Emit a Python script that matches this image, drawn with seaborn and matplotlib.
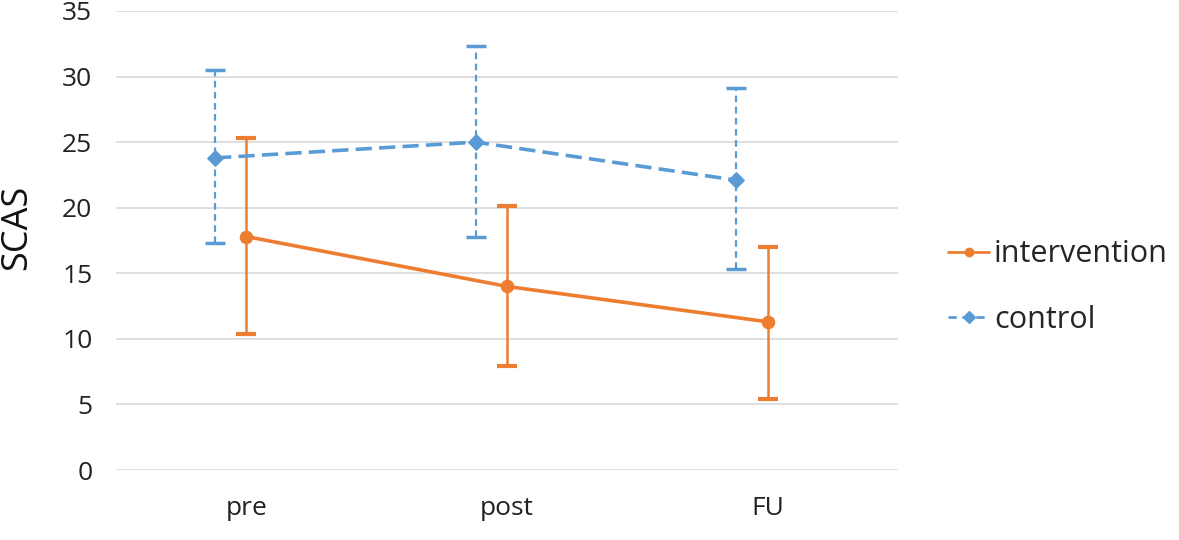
import numpy as np
import pandas as pd
import matplotlib
matplotlib.use("Agg")
import matplotlib.pyplot as plt
import seaborn as sns
from matplotlib.lines import Line2D

# ---- data ----
categories = ["pre", "post", "FU"]
intervention_mean = [17.8, 14.0, 11.3]
intervention_low = [10.4, 7.9, 5.4]
intervention_high = [25.3, 20.1, 17.0]
control_mean = [23.8, 25.0, 22.1]
control_low = [17.3, 17.8, 15.3]
control_high = [30.5, 32.3, 29.1]
y_ticks = [0, 5, 10, 15, 20, 25, 30, 35]

# ---- style ----
sns.set_theme(style="white")
plt.rcParams['font.family'] = ['Open Sans', 'DejaVu Sans']

ORANGE = "#ED7D31"
BLUE = "#5B9BD5"
BLUE_DARK = "#2E75B6"
ctrl_offset = -0.12

fig = plt.figure(figsize=(11.79, 5.40), dpi=100)
ax = fig.add_axes([116/1179, 1 - 470/540, (898-116)/1179, (470-11)/540])

pos = np.arange(len(categories))
df = pd.DataFrame({
    "x": np.concatenate([pos, pos + ctrl_offset]),
    "y": intervention_mean + control_mean,
    "group": ["intervention"] * 3 + ["control"] * 3,
})

# error bars
ie = [np.array(intervention_mean) - np.array(intervention_low),
      np.array(intervention_high) - np.array(intervention_mean)]
ce = [np.array(control_mean) - np.array(control_low),
      np.array(control_high) - np.array(control_mean)]
ax.errorbar(pos, intervention_mean, yerr=ie, fmt="none", ecolor=ORANGE,
            elinewidth=1.8, capsize=7, capthick=3, zorder=3)
eb = ax.errorbar(pos + ctrl_offset, control_mean, yerr=ce, fmt="none", ecolor=BLUE,
                 elinewidth=1.6, capsize=7, capthick=2.5, zorder=3)
for lc in eb[2]:
    lc.set_linestyle((0, (3, 2)))
for cap in eb[1]:
    cap.set_color(BLUE_DARK)

sns.lineplot(data=df[df.group == "intervention"], x="x", y="y", ax=ax,
             color=ORANGE, linewidth=2.6, marker="o", markersize=9,
             markeredgecolor=ORANGE, zorder=4, legend=False)
sns.lineplot(data=df[df.group == "control"], x="x", y="y", ax=ax,
             color=BLUE, linewidth=2.6, linestyle=(0, (4.5, 2)), marker="D",
             markersize=8, markeredgecolor=BLUE, zorder=4, legend=False)

ax.set_xlim(-0.5, len(categories) - 0.5)
ax.set_ylim(0, 35)
ax.set_yticks(y_ticks)
ax.set_yticklabels([str(t) for t in y_ticks], fontsize=19, color="#222222")
ax.set_xticks(pos)
ax.set_xticklabels(categories, fontsize=19, color="#222222")
ax.tick_params(axis="both", length=0)
ax.tick_params(axis="y", pad=17)
ax.tick_params(axis="x", pad=19)
ax.grid(axis="y", color="#D9D9D9", linewidth=1.2)
ax.grid(axis="x", visible=False)
for s in ax.spines.values():
    s.set_visible(False)
ax.set_xlabel("")
ax.set_ylabel("")
fig.text(17/1179, 1 - 227/540, "SCAS", rotation=90, ha="center", va="center",
         fontsize=26, color="#111111")

handles = [
    Line2D([], [], color=ORANGE, linewidth=2, marker="o", markersize=6),
    Line2D([], [], color=BLUE, linewidth=2, linestyle=(0, (3, 2)), marker="D", markersize=6),
]
fig.legend(handles, ["intervention", "control"], loc="center left",
           bbox_to_anchor=(948/1179, 1 - 287/540), frameon=False, fontsize=22,
           borderpad=0, borderaxespad=0,
           handlelength=1.35, handletextpad=0.15, labelspacing=1.15)

fig.savefig("out.png", dpi=100)
